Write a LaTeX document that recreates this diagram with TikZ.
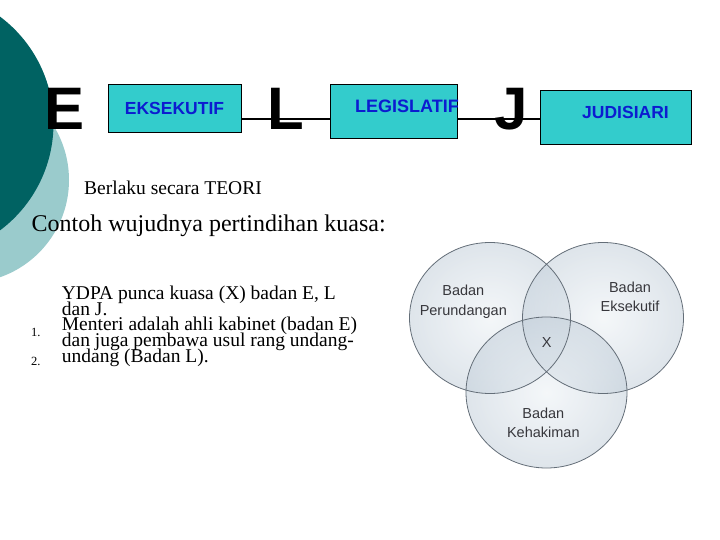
\documentclass[tikz,border=0pt]{standalone}
\usepackage{fontspec}
\setmainfont{Liberation Serif}
\newfontfamily\arial{Liberation Sans}
\definecolor{darkteal}{RGB}{0,98,98}
\definecolor{lightteal}{RGB}{154,203,204}
\definecolor{boxfill}{RGB}{51,204,204}
\definecolor{boxtext}{RGB}{12,28,208}
\definecolor{venninner}{RGB}{236,241,245}
\definecolor{vennouter}{RGB}{196,208,219}
\definecolor{vennedge}{RGB}{100,110,120}
\definecolor{venntext}{RGB}{55,55,60}
\tikzset{
  bigletter/.style={font=\arial\bfseries\fontsize{60}{60}\selectfont, inner sep=0pt, anchor=base},
  tealbox/.style={draw=black, line width=0.9pt, fill=boxfill, inner sep=0pt},
  boxlabel/.style={font=\arial\bfseries\fontsize{17.5}{18}\selectfont, text=boxtext, inner sep=0pt},
  connector/.style={draw=black, line width=2pt},
  serifline/.style={font=\fontsize{19.5}{15.7}\selectfont, inner sep=0pt, anchor=base west},
  numlabel/.style={font=\fontsize{12.5}{12.5}\selectfont, inner sep=0pt, anchor=base west},
  vennset/.style={inner color=venninner, outer color=vennouter, fill opacity=0.55},
  vennline/.style={draw=vennedge, line width=0.8pt},
  venntxt/.style={font=\arial\fontsize{14.5}{19.5}\selectfont, text=venntext, align=center, inner sep=0pt}
}
\begin{document}
\begin{tikzpicture}[x=1pt,y=-1pt]
\useasboundingbox (0,0) rectangle (720,540);
\fill[white] (0,0) rectangle (720,540);
% decorative circles
\begin{scope}
  \clip (0,0) rectangle (720,540);
  \fill[lightteal] (-34,180) circle (103);
  \fill[darkteal] (-80,123.5) circle (133.5);
\end{scope}
% boxes
\node[tealbox, minimum width=133pt, minimum height=48pt] (eks) at (174.5,108) {};
\node[boxlabel] (ekst) at (174.5,108) {EKSEKUTIF};
\node[tealbox, minimum width=127pt, minimum height=54pt] (leg) at (393.5,111) {};
\node[boxlabel, font=\arial\bfseries\fontsize{18}{18}\selectfont] (legt) at (407,106.5) {LEGISLATIF};
\node[tealbox, minimum width=151pt, minimum height=54pt] (jud) at (615.5,117) {};
\node[boxlabel] (judt) at (625.5,112) {JUDISIARI};
% connectors
\coordinate (ly) at (0,119.3);
\draw[connector] (eks.east |- ly) -- (leg.west |- ly);
\draw[connector] (leg.east |- ly) -- (jud.west |- ly);
% big letters
\node[bigletter] (E) at (64.5,129.5) {E};
\node[bigletter] (L) at (286,129.5) {L};
\node[bigletter] (J) at (511,129.5) {J};
% texts
\node[serifline] (berlaku) at (84,195) {Berlaku secara TEORI};
\node[serifline, font=\fontsize{24}{24}\selectfont] (contoh) at (31.5,231.7) {Contoh wujudnya pertindihan kuasa:};
\node[serifline] (l1) at (61.7,299.3) {YDPA punca kuasa (X) badan E, L};
\node[serifline] (l2) at (61.7,315) {dan J.};
\node[serifline] (l3) at (61.7,330.7) {Menteri adalah ahli kabinet (badan E)};
\node[serifline] (l4) at (61.7,346.3) {dan juga pembawa usul rang undang-};
\node[serifline] (l5) at (61.7,362) {undang (Badan L).};
\node[numlabel] (n1) at (31,336.5) {1.};
\node[numlabel] (n2) at (31,365) {2.};
% venn diagram
\shade[vennset] (490,318) ellipse (80.5 and 75.5);
\shade[vennset] (603,318) ellipse (80.5 and 75.5);
\shade[vennset] (546.5,392.5) ellipse (80.5 and 75.5);
\draw[vennline] (490,318) ellipse (80.5 and 75.5);
\draw[vennline] (603,318) ellipse (80.5 and 75.5);
\draw[vennline] (546.5,392.5) ellipse (80.5 and 75.5);
\node[venntxt] (vp) at (463.3,301.7) {Badan\\Perundangan};
\node[venntxt] (ve) at (630,296.7) {Badan\\Eksekutif};
\node[venntxt] (vx) at (546.7,342.5) {X};
\node[venntxt] (vk) at (543.3,423) {Badan\\Kehakiman};
\end{tikzpicture}
\end{document}
